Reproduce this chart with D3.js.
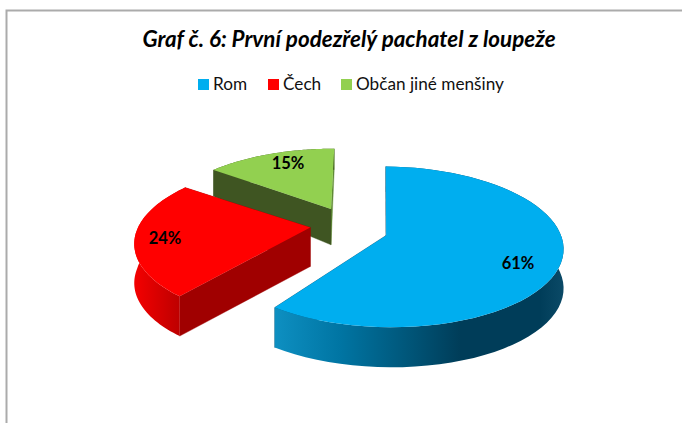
<!DOCTYPE html>
<html><head><meta charset="utf-8">
<script src="https://cdn.jsdelivr.net/npm/d3@7"></script>
<style>html,body{margin:0;padding:0;background:#fff}svg{display:block}</style>
</head><body><svg id="c" width="682" height="423"></svg>
<script>
const categories = ["Rom", "Čech", "Občan jiné menšiny"];
const values = [61, 24, 15];
const labels = ["61%", "24%", "15%"];
const colors = ["#00AEEF", "#FF0000", "#92D050"];
const faceColors = ["#004F70", "#A00000", "#3F5522"];
const sliverColors = ["#004F70", "#A00000", "#5F8A35"];
const rimStops = [
  [[273,"#0E90C2"],[340,"#0075A3"],[410,"#005578"],[460,"#003D59"],[540,"#003D59"],[564,"#0B4A67"]],
  [[136,"#F20000"],[184,"#B80000"]],
  [[200,"#3F5522"],[340,"#3F5522"]]
];
const titleText = "Graf č. 6: První podezřelý pachatel z loupeže";

const svg = d3.select("#c");
const defs = svg.append("defs");
const font = "Lato, 'Open Sans', sans-serif";

// frame
svg.append("path").attr("d","M6.5 423V10.5H682").attr("fill","none").attr("stroke","#ababab").attr("stroke-width",2);

// plane -> screen perspective
const CX = 348, CY = 229.8, B = 176, A = 78.5, K = 0.13;
const RADIUS = 0.985;
const explode = [0.23, 0.215, 0.23];
const apexNudge = [-1, -4, -5];
const angleTrim = [[0,-4.8],[0,0],[3,-1]];
const scaleX = d3.scaleLinear().domain([0,1]).range([0,B]);
const scaleY = d3.scaleLinear().domain([0,1]).range([0,A]);
function project(px, py, down, nudge){
  const den = 1 + K*py;
  const depth = down ? (py > 0 ? 39 - 15*py : 39 - py) : 0;
  return [CX + scaleX(px)/den, CY - scaleY(py)/den + depth + (nudge||0)];
}
const RAD = Math.PI/180;
const START = 1.5*RAD;
const pie = d3.pie().sort(null).startAngle(START).endAngle(2*Math.PI+START);
const arcs = pie(values);
const line = d3.line();

const slices = arcs.map((a,i)=>{
  const mid = (a.startAngle+a.endAngle)/2;
  const ex = explode[i]*Math.sin(mid), ey = explode[i]*Math.cos(mid);
  const t0 = a.startAngle+angleTrim[i][0]*RAD, t1 = a.endAngle+angleTrim[i][1]*RAD;
  const rim = d3.range(0,61).map(j=>{
    const t = t0+(t1-t0)*j/60;
    return [ex+RADIUS*Math.sin(t), ey+RADIUS*Math.cos(t)];
  });
  return {i,a,ex,ey,rim};
});

rimStops.forEach((st,i)=>{
  const g = defs.append("linearGradient").attr("id","rim"+i).attr("gradientUnits","userSpaceOnUse")
    .attr("x1",st[0][0]).attr("x2",st[st.length-1][0]).attr("y1",0).attr("y2",0);
  const x0=st[0][0], x1=st[st.length-1][0];
  st.forEach(s=>g.append("stop").attr("offset",(s[0]-x0)/(x1-x0)).attr("stop-color",s[1]));
});

[2,1,0].forEach(i=>{
  const s = slices[i], g = svg.append("g"), n = apexNudge[i];
  const first = s.rim[0], last = s.rim[s.rim.length-1], apex=[s.ex,s.ey];
  const quad = (p,q,fill)=> g.append("path")
    .attr("d",line([project(p[0],p[1],false,n),project(q[0],q[1],false),project(q[0],q[1],true),project(p[0],p[1],true,n)])+"Z")
    .attr("fill",fill).attr("stroke",fill).attr("stroke-width",.4);
  quad(apex,last,sliverColors[i]);
  quad(apex,first,faceColors[i]);
  const rimPts = s.rim.map(p=>project(p[0],p[1],false)).concat(s.rim.slice().reverse().map(p=>project(p[0],p[1],true)));
  g.append("path").attr("d",line(rimPts)+"Z").attr("fill",`url(#rim${i})`);
  const top = [project(apex[0],apex[1],false,n)].concat(s.rim.map(p=>project(p[0],p[1],false)));
  g.append("path").attr("d",line(top)+"Z").attr("fill",colors[i]);
});

// labels
const labelPos = [[518,263],[165,238],[288,163]];
labels.forEach((t,i)=>svg.append("text").text(t).attr("x",labelPos[i][0]).attr("y",labelPos[i][1])
  .attr("dy","0.35em").attr("text-anchor","middle").attr("font-family",font).attr("font-weight",700).attr("font-size",16.5).attr("fill","#000"));

// title
svg.append("text").text(titleText).attr("x",349).attr("y",46.5).attr("text-anchor","middle")
  .attr("font-family",font).attr("font-weight",700).attr("font-style","italic").attr("font-size",22.4).attr("fill","#000");

// legend
const lx=[198,268,341];
categories.forEach((c,i)=>{
  svg.append("rect").attr("x",lx[i]).attr("y",79).attr("width",11).attr("height",11).attr("fill",colors[i]);
  svg.append("text").text(c).attr("x",lx[i]+15).attr("y",90).attr("font-family",font).attr("font-size",17.2).attr("fill","#111");
});
</script></body></html>
